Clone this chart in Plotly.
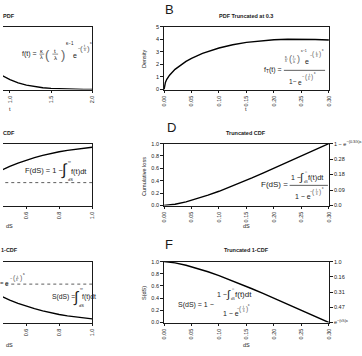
import plotly.graph_objects as go

W, H = 362, 356
FONT = "Liberation Sans"
INK = "#1a1a1a"
GRAY = "#666666"

# ---------------- data ----------------
# A: PDF (visible part)
t_pdf = [0.8, 0.9, 1.0, 1.1, 1.2, 1.3, 1.4, 1.5, 1.6, 1.7, 1.8, 1.9, 2.0]
pdf_vals = [0.501, 0.360, 0.251, 0.170, 0.113, 0.073, 0.046, 0.029, 0.018, 0.011, 0.006, 0.004, 0.002]

# B: PDF truncated at 0.3
t_tpdf = [0, 0.001, 0.0025, 0.005, 0.01, 0.02, 0.03, 0.04, 0.05, 0.07, 0.10,
          0.125, 0.15, 0.175, 0.20, 0.225, 0.25, 0.275, 0.30]
tpdf_vals = [0, 0.36, 0.57, 0.81, 1.14, 1.60, 1.95, 2.23, 2.47, 2.87, 3.30,
             3.56, 3.75, 3.88, 3.96, 4.00, 4.01, 3.98, 3.93]

# C / E: CDF and 1-CDF (visible part)
ds_cdf = [0.40, 0.45, 0.50, 0.55, 0.60, 0.65, 0.70, 0.75, 0.80, 0.85, 0.90, 0.95, 1.00]
cdf_vals = [0.511, 0.574, 0.632, 0.685, 0.731, 0.773, 0.809, 0.841, 0.868, 0.891, 0.911, 0.927, 0.941]
surv_vals = [0.489, 0.426, 0.368, 0.315, 0.269, 0.227, 0.191, 0.159, 0.132, 0.109, 0.089, 0.073, 0.059]
p_trunc = 0.37   # dotted level in CDF panel
s_trunc = 0.63   # dotted level in 1-CDF panel

# D / F: truncated CDF and truncated 1-CDF
ds_t = [0, 0.02, 0.04, 0.05, 0.06, 0.08, 0.10, 0.12, 0.14, 0.16, 0.18,
        0.20, 0.22, 0.24, 0.26, 0.28, 0.30]
tcdf_vals = [0, 0.021, 0.060, 0.084, 0.110, 0.167, 0.230, 0.298, 0.371, 0.446, 0.523,
             0.601, 0.681, 0.761, 0.841, 0.921, 1.0]
tsurv_vals = [1.0, 0.979, 0.940, 0.916, 0.890, 0.833, 0.770, 0.702, 0.629, 0.554, 0.477,
              0.399, 0.319, 0.239, 0.159, 0.079, 0.0]

# tick labels
a_ticks = [1.0, 1.5, 2.0]
a_ticktext = ["1.0", "1.5", "2.0"]
ce_ticks = [0.6, 0.8, 1.0]
ce_ticktext = ["0.6", "0.8", "1.0"]
r_xticks = [0, 0.05, 0.10, 0.15, 0.20, 0.25, 0.30]
r_xticktext = ["0.00", "0.05", "0.10", "0.15", "0.20", "0.25", "0.30"]
b_yticks = [0, 1, 2, 3, 4, 5]
b_yticktext = ["0", "1", "2", "3", "4", "5"]
df_yticks = [0, 0.2, 0.4, 0.6, 0.8, 1.0]
df_yticktext = ["0.0", "0.2", "0.4", "0.6", "0.8", "1.0"]
right_ticks = [0, 0.25, 0.5, 0.75, 1.0]
d_right_text = ["0.0", "0.09", "0.18", "0.28", "1 − e<sup>−(0.3/λ)κ</sup>"]
f_right_text = ["e<sup>−(t/λ)κ</sup>", "0.47", "0.31", "0.16", "1.0"]

# ---------------- layout geometry ----------------
LEFT = [0, 93 / W]
RIGHT = [168 / W, 340 / W]
ROW1 = [1 - 88 / H, 1 - 24 / H]
ROW2 = [1 - 206 / H, 1 - 143 / H]
ROW3 = [1 - 325 / H, 1 - 263 / H]

tickfont = dict(family=FONT, size=5.5, color=INK)


def xax(domain, rng, tv, tt, anchor):
    return dict(domain=domain, range=rng, tickmode="array", tickvals=tv, ticktext=tt,
                tickangle=-90, ticks="outside", ticklen=3, tickwidth=0.8, tickcolor=INK,
                showline=True, linecolor=INK, linewidth=0.9, mirror=True,
                showgrid=False, zeroline=False, tickfont=tickfont, anchor=anchor,
                fixedrange=True)


def yax_left_panel(domain, rng, anchor):
    return dict(domain=domain, range=rng, side="right", showline=True, linecolor=INK,
                linewidth=0.9, ticks="", showticklabels=False, showgrid=False,
                zeroline=False, anchor=anchor, fixedrange=True)


def yax(domain, rng, tv, tt, anchor):
    return dict(domain=domain, range=rng, tickmode="array", tickvals=tv, ticktext=tt,
                ticks="outside", ticklen=3, tickwidth=0.8, tickcolor=INK,
                showline=True, linecolor=INK, linewidth=0.9, mirror=True,
                showgrid=False, zeroline=False, tickfont=tickfont, anchor=anchor,
                fixedrange=True)


def yax_right(over, anchor, tt):
    return dict(overlaying=over, anchor=anchor, side="right", range=[0, 1],
                tickmode="array", tickvals=right_ticks, ticktext=tt,
                ticks="outside", ticklen=3, tickwidth=0.8, tickcolor=INK,
                showline=False, showgrid=False, zeroline=False, tickfont=tickfont,
                fixedrange=True)


fig = go.Figure()
LINE = dict(color="black", width=1.4)


def curve(x, y, xa, ya, **kw):
    fig.add_trace(go.Scatter(x=x, y=y, mode="lines", line=kw.get("line", LINE),
                             xaxis=xa, yaxis=ya, showlegend=False, hoverinfo="skip"))


curve(t_pdf, pdf_vals, "x", "y")
curve(t_tpdf, tpdf_vals, "x2", "y2")
curve(ds_cdf, cdf_vals, "x3", "y3")
curve([ds_cdf[0], ds_cdf[-1]], [p_trunc, p_trunc], "x3", "y3",
      line=dict(color="#333333", width=0.8, dash="dot"))
curve(ds_t, tcdf_vals, "x4", "y4")
curve(ds_cdf, surv_vals, "x5", "y5")
curve([ds_cdf[0], ds_cdf[-1]], [s_trunc, s_trunc], "x5", "y5",
      line=dict(color="#333333", width=0.8, dash="dot"))
curve(ds_t, tsurv_vals, "x6", "y6")
# secondary right-hand scales (same curves, invisible) so the right axes are drawn
curve(ds_t, tcdf_vals, "x4", "y7", line=dict(color="rgba(0,0,0,0)", width=0))
curve(ds_t, tsurv_vals, "x6", "y8", line=dict(color="rgba(0,0,0,0)", width=0))

# ---------------- annotations ----------------
ann = []
shapes = []


def txt(x, y, s, size=6, xanchor="center", angle=0, color=INK, bold=False):
    ann.append(dict(x=x / W, y=1 - y / H, xref="paper", yref="paper",
                    text=("<b>%s</b>" % s) if bold else s, showarrow=False,
                    xanchor=xanchor, yanchor="middle", textangle=angle,
                    borderpad=0,
                    font=dict(size=size, color=color, family=FONT)))


def hline(x0, x1, y, w=0.7):
    shapes.append(dict(type="line", xref="paper", yref="paper",
                       x0=x0 / W, x1=x1 / W, y0=1 - y / H, y1=1 - y / H,
                       line=dict(color=INK, width=w)))


def frac(xc, yc, num, den, size, halfw, lw=0.5):
    txt(xc, yc - size * 0.55, num, size)
    txt(xc, yc + size * 0.6, den, size)
    hline(xc - halfw, xc + halfw, yc, lw)


def tlam(xc, yc, size, pw, parsize, color=GRAY):
    # small stacked (t / lambda) in parentheses
    txt(xc - pw, yc, "(", parsize, color=color)
    txt(xc + pw, yc, ")", parsize, color=color)
    frac(xc, yc, "t", "λ", size, size * 0.45, 0.35)


# panel letters
txt(174, 6.5, "B", 13)
txt(176, 127, "D", 13)
txt(173.5, 245.5, "F", 13)

# titles
TS = 5.5
txt(6.5, 13, "PDF", TS, bold=True)
txt(254, 13, "PDF Truncated at 0.3", TS, bold=True)
txt(6.5, 132, "CDF", TS, bold=True)
txt(254, 132, "Truncated CDF", TS, bold=True)
txt(6.5, 251, "1-CDF", TS, bold=True)
txt(254, 251, "Truncated 1-CDF", TS, bold=True)

# axis titles
txt(7, 108, "t", TS)
txt(254, 108, "t", TS)
txt(7, 227, "dS", TS)
txt(254, 227, "dS", TS)
txt(7, 348, "dS", TS)
txt(254, 348, "dS", TS)
txt(147, 56, "Density", TS, angle=-90)
txt(147, 176, "Cumulative loss", TS, angle=-90)
txt(147, 295, "S(dS)", TS, angle=-90)

# A formula
txt(37, 52, "f(t) =", 7, xanchor="right")
frac(40.5, 52, "κ", "λ", 5.5, 2.5)
txt(46.5, 52, "(", 13, color=GRAY)
txt(62.5, 52, ")", 13, color=GRAY)
frac(54.5, 52, "t", "λ", 6, 3)
txt(65, 41, "κ−1", 4.5, xanchor="left")
txt(75.5, 53, "e", 7)
txt(79.5, 46, "−", 4.5)
tlam(85.5, 46, 3.5, 3.2, 8)
txt(89.5, 41, "κ", 3.5, xanchor="left")

# B formula
txt(292, 68, "f<sub>T</sub>(t) =", 7, xanchor="right")
hline(293, 336, 68.5, 0.7)
frac(295.5, 57, "κ", "λ", 3.5, 1.5, 0.4)
tlam(303.75, 57, 4, 4.2, 9)
txt(309.5, 49, "κ−1", 3.5, xanchor="left")
txt(317.5, 59, "e", 7)
txt(321.5, 53, "−", 4)
tlam(327.5, 52, 3, 3.3, 6.5)
txt(331.5, 48, "κ", 3, xanchor="left")
txt(300, 80, "1", 6.5)
txt(305, 80, "−", 6.5)
txt(310, 81, "e", 6.5)
txt(314, 75, "−", 4)
tlam(319.5, 75, 3, 3.3, 6.5)
txt(323.5, 71, "κ", 3, xanchor="left")

# C formula
txt(22, 170, "F(dS) = 1 −", 7.5, xanchor="left")
txt(64, 170, "∫", 16)
txt(67, 161, "∞", 4, xanchor="left")
txt(66.5, 180, "dS", 4, xanchor="left")
txt(70, 171, "f(t)dt", 7.5, xanchor="left")

# D formula
txt(298, 185, "F(dS) =", 8, xanchor="right")
hline(299, 339, 185.5, 0.7)
txt(299, 177, "1 −", 7, xanchor="left")
txt(311.5, 177, "∫", 11)
txt(313.5, 171.5, "∞", 3, xanchor="left")
txt(313, 182, "dS", 3, xanchor="left")
txt(317, 177, "f(t)dt", 7.5, xanchor="left")
txt(304, 197, "1 − e", 7, xanchor="left")
txt(322, 192, "−", 4)
tlam(327.5, 192, 3, 3.3, 6.5)
txt(331.5, 188.5, "κ", 3, xanchor="left")

# E formula and dotted-line label
txt(50, 299, "S(dS) =", 6.8, xanchor="left")
txt(76.5, 299, "∫", 15)
txt(79, 290, "∞", 4, xanchor="left")
txt(78.5, 308, "dS", 4, xanchor="left")
txt(81, 299, "f(t)dt", 6.8, xanchor="left")
txt(2.5, 285, "S(0.3) =", 6, xanchor="right")
txt(4.5, 285, "e", 6.5)
txt(8.5, 280.5, "−", 4)
tlam(15, 280, 3, 3.3, 7)
txt(19.5, 276, "κ", 3.5, xanchor="left")

# F formula
txt(181.5, 307, "S(dS) = 1 −", 7, xanchor="left")
txt(222, 296, "1 −", 7, xanchor="left")
txt(235.5, 296, "∫", 11)
txt(237.5, 290.5, "∞", 3, xanchor="left")
txt(237, 301, "dS", 3, xanchor="left")
txt(241, 296, "f(t)dt", 8, xanchor="left")
txt(228, 316, "1 − e", 7, xanchor="left")
txt(245.5, 311, "−", 4)
tlam(251, 311, 3, 3.3, 6.5)
txt(255, 307.5, "κ", 3, xanchor="left")

fig.update_layout(
    width=W, height=H,
    margin=dict(l=0, r=0, t=0, b=0, pad=0),
    paper_bgcolor="white", plot_bgcolor="white",
    showlegend=False,
    font=dict(family=FONT, color=INK),
    xaxis=xax(LEFT, [0.915, 2.0], a_ticks, a_ticktext, "y"),
    yaxis=yax_left_panel(ROW1, [0, 1.6], "x"),
    xaxis2=xax(RIGHT, [0, 0.3], r_xticks, r_xticktext, "y2"),
    yaxis2=yax(ROW1, [0, 5], b_yticks, b_yticktext, "x2"),
    xaxis3=xax(LEFT, [0.459, 1.0], ce_ticks, ce_ticktext, "y3"),
    yaxis3=yax_left_panel(ROW2, [0, 1], "x3"),
    xaxis4=xax(RIGHT, [0, 0.3], r_xticks, r_xticktext, "y4"),
    yaxis4=yax(ROW2, [0, 1], df_yticks, df_yticktext, "x4"),
    xaxis5=xax(LEFT, [0.459, 1.0], ce_ticks, ce_ticktext, "y5"),
    yaxis5=yax_left_panel(ROW3, [0, 1], "x5"),
    xaxis6=xax(RIGHT, [0, 0.3], r_xticks, r_xticktext, "y6"),
    yaxis6=yax(ROW3, [0, 1], df_yticks, df_yticktext, "x6"),
    yaxis7=yax_right("y4", "x4", d_right_text),
    yaxis8=yax_right("y6", "x6", f_right_text),
    annotations=ann,
    shapes=shapes,
)

fig.write_html("out.html", config={"displayModeBar": False})
